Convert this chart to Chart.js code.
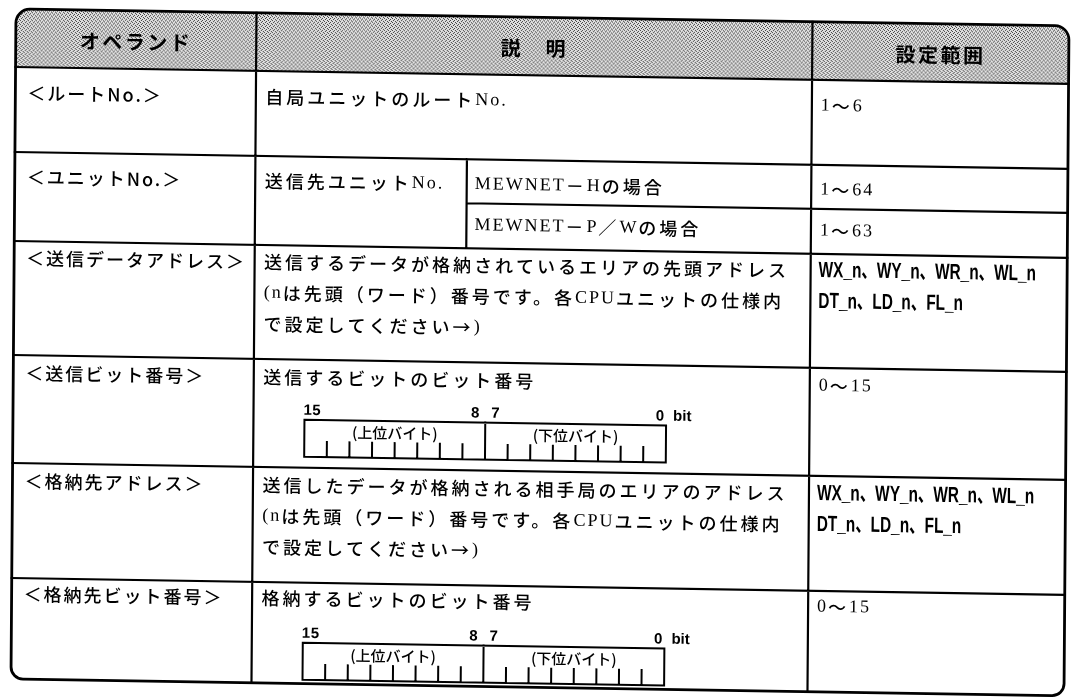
<!DOCTYPE html>
<html lang="ja">
<head>
<meta charset="utf-8">
<title>オペランド一覧</title>
<script src="https://cdn.jsdelivr.net/npm/chart.js@4.4.1/dist/chart.umd.min.js"></script>
<style>
  html, body { margin: 0; padding: 0; background: #fff; }
  #wrap { width: 1071px; height: 698px; }
</style>
</head>
<body>
<div id="wrap"><canvas id="tabla"></canvas></div>
<script>
// 見出し
const headers = ['オペランド', '説　明', '設定範囲'];
// オペランド列
const operands = ['＜ルートNo.＞', '＜ユニットNo.＞', '＜送信データアドレス＞', '＜送信ビット番号＞', '＜格納先アドレス＞', '＜格納先ビット番号＞'];
// 説明列
const descriptions = [
    ['自局ユニットのルートNo.'],
    ['送信先ユニットNo.'],
    ['送信するデータが格納されているエリアの先頭アドレス', '(nは先頭（ワード）番号です。各CPUユニットの仕様内', 'で設定してください→)'],
    ['送信するビットのビット番号'],
    ['送信したデータが格納される相手局のエリアのアドレス', '(nは先頭（ワード）番号です。各CPUユニットの仕様内', 'で設定してください→)'],
    ['格納するビットのビット番号']
];
const networks = ['MEWNET－Hの場合', 'MEWNET－P／Wの場合'];
// 設定範囲列
const ranges = [
    ['1～6'],
    ['1～64', '1～63'],
    ['WX_n、WY_n、WR_n、WL_n', 'DT_n、LD_n、FL_n'],
    ['0～15'],
    ['WX_n、WY_n、WR_n、WL_n', 'DT_n、LD_n、FL_n'],
    ['0～15']
];
// ビット図
const bitNumbers = ['15', '8', '7', '0'];
const bitUnit = 'bit';
const byteNames = ['(上位バイト)', '(下位バイト)'];
const bitRows = [3, 5];

// 罫線の位置 (スケールの値)
const layout = {
    left: 16, col1: 256.5, col2: 812.5, right: 1069, split: 468,
    rows: [9, 67, 152, 241, 355, 463, 578, 679],
    unitSplit: 196,
    textOffset: [26, 25, 17, 18, 18, 16],
    lineGap: 31
};

const INK = '#000';
const fLatin = '18px "Liberation Serif"';
const fKana = '500 18px "Noto Sans CJK JP"';
const fOp = '500 18px "Noto Sans CJK JP"';
const fHead = '700 20px "Noto Sans CJK JP"';
const fCode = '700 22px "Liberation Sans", "Noto Sans CJK JP"';
const fBit = '700 15px "Liberation Sans"';
const fByte = '500 15px "Noto Sans CJK JP"';

function halftone(ctx) {
    const c = document.createElement('canvas');
    c.width = 4; c.height = 4;
    const g = c.getContext('2d');
    g.fillStyle = '#e2e2e2';
    g.fillRect(0, 0, 4, 4);
    g.fillStyle = '#3a3a3a';
    [[0, 0], [2, 1], [1, 2], [3, 3]].forEach(p => g.fillRect(p[0], p[1], 1, 1));
    return ctx.createPattern(c, 'repeat');
}

function put(ctx, s, x, y, font, spacing, align, sx) {
    ctx.save();
    ctx.font = font;
    ctx.letterSpacing = spacing + 'px';
    ctx.textAlign = align || 'left';
    ctx.textBaseline = 'middle';
    ctx.fillStyle = INK;
    if (sx) {
        ctx.translate(x, y);
        ctx.scale(sx, 1);
        ctx.fillText(s, 0, 0);
    } else {
        ctx.fillText(s, x, y);
    }
    ctx.restore();
}

// 欧文は明朝風のセリフ体、かなは字間を広げて描く
function putMixed(ctx, s, x, y) {
    const runs = [];
    for (const ch of s) {
        const latin = /[\x21-\x7e]/.test(ch);
        const last = runs[runs.length - 1];
        if (last && last.latin === latin) last.text += ch;
        else runs.push({ latin, text: ch });
    }
    ctx.save();
    ctx.textBaseline = 'middle';
    ctx.textAlign = 'left';
    ctx.fillStyle = INK;
    runs.forEach(run => {
        ctx.font = run.latin ? fLatin : fKana;
        ctx.letterSpacing = (run.latin ? 2 : 3) + 'px';
        ctx.fillText(run.text, x, y);
        x += ctx.measureText(run.text).width;
    });
    ctx.restore();
}

const tablePlugin = {
    id: 'tabla',
    afterDraw(chart) {
        const ctx = chart.ctx;
        const sx = chart.scales.x, sy = chart.scales.y;
        const px = v => sx.getPixelForValue(v);
        const py = v => sy.getPixelForValue(v);
        const L = px(layout.left), R = px(layout.right);
        const C1 = px(layout.col1), C2 = px(layout.col2), SP = px(layout.split);
        const rows = layout.rows.map(py);
        const T = rows[0], B = rows[rows.length - 1];

        ctx.save();
        // スキャンの傾き
        ctx.translate(L, T);
        ctx.transform(1, 0.016, -0.0075, 1, 0, 0);
        ctx.translate(-L, -T);

        // 見出しの網掛け
        const r = 14;
        ctx.beginPath();
        ctx.moveTo(L, rows[1]);
        ctx.lineTo(L, T + r);
        ctx.arcTo(L, T, L + r, T, r);
        ctx.lineTo(R - r, T);
        ctx.arcTo(R, T, R, T + r, r);
        ctx.lineTo(R, rows[1]);
        ctx.closePath();
        ctx.fillStyle = halftone(ctx);
        ctx.fill();

        // 罫線
        ctx.strokeStyle = INK;
        ctx.lineWidth = 2.2;
        ctx.lineCap = 'square';
        ctx.beginPath();
        for (let i = 1; i < rows.length - 1; i++) {
            ctx.moveTo(L, rows[i]);
            ctx.lineTo(R, rows[i]);
        }
        ctx.moveTo(SP, py(layout.unitSplit));
        ctx.lineTo(R, py(layout.unitSplit));
        ctx.moveTo(C1, T);
        ctx.lineTo(C1, B);
        ctx.moveTo(C2, T);
        ctx.lineTo(C2, B);
        ctx.moveTo(SP, rows[2]);
        ctx.lineTo(SP, rows[3]);
        ctx.stroke();

        ctx.lineWidth = 2.8;
        ctx.beginPath();
        ctx.roundRect(L, T, R - L, B - T, [14, 14, 12, 12]);
        ctx.stroke();

        // 見出し
        const hy = py(40);
        put(ctx, headers[0], (L + C1) / 2, hy, fHead, 2.5, 'center');
        put(ctx, headers[1], (C1 + C2) / 2, hy, fHead, 2.5, 'center');
        put(ctx, headers[2], (C2 + R) / 2, hy, fHead, 2.5, 'center');

        // 本文
        const gap = py(layout.lineGap) - py(0);
        operands.forEach((op, i) => {
            const y0 = py(layout.rows[i + 1] + layout.textOffset[i]);
            put(ctx, op, L + 12, y0, fOp, 2);
            descriptions[i].forEach((s, k) => putMixed(ctx, s, C1 + 9.5, y0 + k * gap));
            ranges[i].forEach((s, k) => {
                let y = y0 + k * gap;
                if (i === 1 && k === 1) y = py(layout.unitSplit + 22);
                if (s.indexOf('_') >= 0) put(ctx, s, C2 + 8, y, fCode, 0, 'left', 0.7);
                else putMixed(ctx, s, C2 + 9, y);
            });
            if (i === 1) {
                putMixed(ctx, networks[0], SP + 8, y0);
                putMixed(ctx, networks[1], SP + 8, py(layout.unitSplit + 22));
            }
        });

        // ビット図
        bitRows.forEach(i => {
            const top = layout.rows[i + 1];
            const bx = C1 + 51, bw = 22.6 * 16;
            const bt = py(top + 60), bb = py(top + 97);
            const mid = bx + bw / 2;
            ctx.lineWidth = 2;
            ctx.beginPath();
            ctx.rect(bx, bt, bw, bb - bt);
            ctx.moveTo(mid, bt);
            ctx.lineTo(mid, bb);
            for (let b = 1; b < 16; b++) {
                if (b === 8) continue;
                const tx = bx + b * 22.6;
                ctx.moveTo(tx, bb);
                ctx.lineTo(tx, bb - 15);
            }
            ctx.stroke();
            const ly = py(top + 51);
            put(ctx, bitNumbers[0], bx - 1, ly, fBit, 0.5, 'left');
            put(ctx, bitNumbers[1], mid - 6, ly, fBit, 0, 'right');
            put(ctx, bitNumbers[2], mid + 6, ly, fBit, 0, 'left');
            put(ctx, bitNumbers[3], bx + bw - 2, ly, fBit, 0, 'right');
            put(ctx, bitUnit, bx + bw + 7, ly, fBit, 0, 'left');
            put(ctx, byteNames[0], (bx + mid) / 2, bt + 12, fByte, 0, 'center');
            put(ctx, byteNames[1], (mid + bx + bw) / 2, bt + 12, fByte, 0, 'center');
        });

        ctx.restore();
    }
};

const chart = new Chart(document.getElementById('tabla'), {
    type: 'scatter',
    data: { datasets: [] },
    options: {
        responsive: true,
        maintainAspectRatio: false,
        animation: false,
        layout: { padding: 0 },
        plugins: { legend: { display: false }, tooltip: { enabled: false } },
        scales: {
            x: { type: 'linear', min: 0, max: 1071, display: false },
            y: { type: 'linear', min: 0, max: 698, reverse: true, display: false }
        }
    },
    plugins: [tablePlugin]
});
</script>
</body>
</html>
